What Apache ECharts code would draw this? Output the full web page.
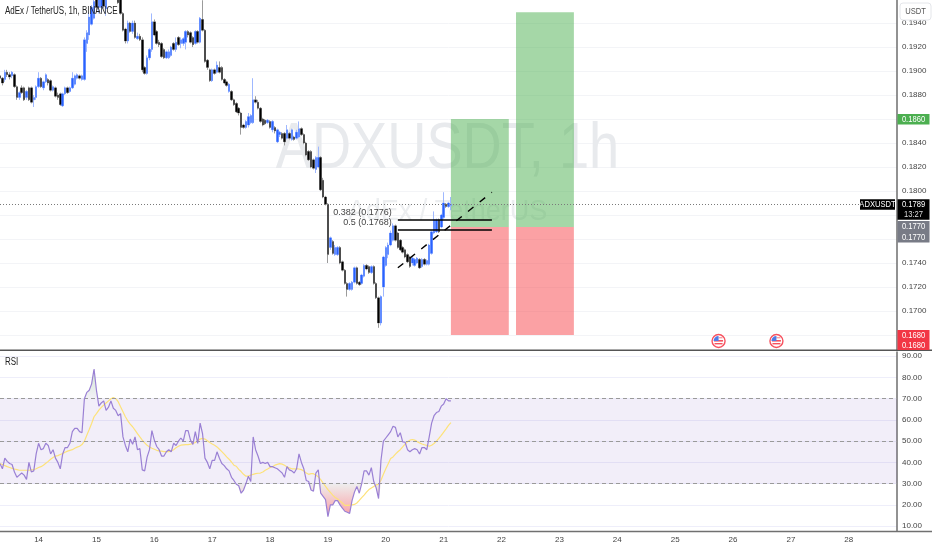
<!DOCTYPE html>
<html><head><meta charset="utf-8">
<style>html,body{margin:0;padding:0;background:#fff}#c{width:932px;height:550px}</style>
<script src="https://cdn.jsdelivr.net/npm/echarts@6/dist/echarts.min.js"></script>
</head><body><div id="c"></div>
<script>
const opens=[.1896,.1894,.1893,.1899,.1897,.1896,.1897,.1887,.1878,.1886,.1886,.1878,.1886,.1886,.1876,.1878,.1887,.1894,.1886,.1891,.1893,.1892,.1884,.1886,.1880,.1881,.1871,.1881,.1886,.1883,.1886,.1889,.1894,.1896,.1893,.1893,.1923,.1930,.1939,.1944,.1964,.1953,.1953,.1964,.1952,.1962,.1968,.1971,.1966,.1962,.1960,.1948,.1935,.1925,.1940,.1933,.1940,.1927,.1929,.1926,.1903,.1898,.1911,.1918,.1941,.1933,.1924,.1923,.1918,.1911,.1911,.1913,.1923,.1918,.1928,.1923,.1923,.1924,.1933,.1932,.1928,.1923,.1933,.1924,.1943,.1934,.1909,.1901,.1892,.1901,.1899,.1903,.1903,.1893,.1891,.1883,.1883,.1876,.1873,.1869,.1865,.1855,.1853,.1855,.1857,.1857,.1876,.1874,.1869,.1860,.1859,.1857,.1858,.1851,.1853,.1841,.1847,.1848,.1848,.1844,.1848,.1843,.1845,.1844,.1845,.1852,.1847,.1840,.1833,.1833,.1826,.1818,.1820,.1828,.1809,.1795,.1789,.1753,.1758,.1747,.1747,.1753,.1741,.1734,.1723,.1718,.1718,.1724,.1736,.1724,.1723,.1729,.1738,.1737,.1732,.1737,.1723,.1711,.1690,.1720,.1738,.1747,.1755,.1759,.1771,.1765,.1759,.1753,.1751,.1747,.1745,.1740,.1738,.1740,.1743,.1737,.1743,.1739,.1739,.1748,.1765,.1766,.1776,.1770,.1778,.1789,.1787,.1788];
const closes=[.1894,.1890,.1899,.1897,.1895,.1899,.1887,.1878,.1882,.1882,.1876,.1883,.1876,.1874,.1878,.1887,.1894,.1887,.1891,.1897,.1890,.1884,.1887,.1879,.1878,.1872,.1881,.1886,.1882,.1886,.1894,.1896,.1897,.1894,.1896,.1926,.1932,.1945,.1953,.1958,.1953,.1961,.1964,.1954,.1962,.1968,.1971,.1966,.1962,.1957,.1948,.1934,.1925,.1940,.1933,.1940,.1928,.1929,.1926,.1901,.1898,.1911,.1918,.1941,.1930,.1923,.1922,.1912,.1911,.1916,.1916,.1920,.1918,.1924,.1922,.1926,.1927,.1933,.1930,.1924,.1922,.1933,.1924,.1944,.1934,.1908,.1903,.1892,.1901,.1898,.1905,.1899,.1893,.1890,.1888,.1889,.1876,.1872,.1866,.1865,.1853,.1853,.1858,.1862,.1863,.1876,.1874,.1869,.1858,.1855,.1856,.1859,.1853,.1858,.1850,.1851,.1849,.1844,.1841,.1851,.1844,.1851,.1843,.1849,.1852,.1847,.1840,.1830,.1826,.1820,.1819,.1828,.1828,.1801,.1795,.1789,.1747,.1761,.1748,.1753,.1753,.1740,.1734,.1723,.1718,.1723,.1724,.1736,.1723,.1722,.1730,.1738,.1735,.1732,.1737,.1723,.1711,.1690,.1712,.1745,.1753,.1755,.1765,.1771,.1759,.1753,.1751,.1749,.1745,.1741,.1737,.1744,.1743,.1744,.1736,.1743,.1739,.1742,.1755,.1766,.1776,.1776,.1766,.1780,.1790,.1787,.1790,.1789];
const highs=[.1898,.1895,.1901,.1901,.1899,.1900,.1898,.1888,.1883,.1888,.1887,.1884,.1887,.1887,.1880,.1888,.1899,.1895,.1892,.1898,.1894,.1893,.1888,.1887,.1882,.1882,.1882,.1887,.1887,.1887,.1899,.1897,.1898,.1897,.1897,.1928,.1934,.1949,.1955,.1961,.1966,.1964,.1966,.1966,.1963,.1969,.1973,.1973,.1968,.1963,.1961,.1949,.1936,.1942,.1941,.1942,.1942,.1932,.1931,.1928,.1904,.1913,.1919,.1948,.1943,.1934,.1926,.1924,.1919,.1917,.1918,.1921,.1924,.1928,.1929,.1928,.1928,.1934,.1934,.1933,.1929,.1934,.1934,.1945,.1959,.1935,.1910,.1902,.1902,.1902,.1908,.1908,.1904,.1894,.1892,.1890,.1884,.1877,.1874,.1870,.1866,.1856,.1859,.1865,.1864,.1894,.1879,.1876,.1870,.1861,.1860,.1860,.1859,.1859,.1854,.1852,.1850,.1849,.1849,.1855,.1849,.1852,.1846,.1851,.1858,.1853,.1848,.1841,.1834,.1834,.1827,.1829,.1837,.1829,.1811,.1796,.1790,.1762,.1759,.1755,.1754,.1754,.1742,.1735,.1724,.1724,.1725,.1737,.1737,.1725,.1731,.1739,.1739,.1738,.1738,.1738,.1724,.1712,.1713,.1746,.1754,.1757,.1767,.1773,.1772,.1766,.1760,.1754,.1752,.1748,.1746,.1745,.1744,.1745,.1744,.1744,.1744,.1743,.1756,.1767,.1783,.1777,.1777,.1781,.1799,.1790,.1791,.1795];
const lows=[.1893,.1888,.1891,.1895,.1893,.1894,.1886,.1876,.1876,.1881,.1875,.1876,.1875,.1873,.1870,.1876,.1886,.1886,.1884,.1890,.1888,.1883,.1883,.1878,.1876,.1871,.1870,.1880,.1881,.1882,.1885,.1888,.1893,.1893,.1892,.1892,.1916,.1926,.1938,.1943,.1951,.1948,.1949,.1952,.1946,.1961,.1966,.1964,.1960,.1956,.1947,.1933,.1923,.1923,.1932,.1931,.1927,.1926,.1925,.1899,.1897,.1897,.1909,.1916,.1929,.1922,.1920,.1911,.1910,.1910,.1910,.1912,.1917,.1916,.1921,.1919,.1921,.1918,.1928,.1923,.1920,.1922,.1923,.1923,.1933,.1907,.1901,.1891,.1891,.1897,.1898,.1898,.1892,.1889,.1887,.1882,.1875,.1871,.1865,.1863,.1847,.1852,.1852,.1853,.1856,.1856,.1873,.1868,.1857,.1854,.1855,.1856,.1852,.1849,.1848,.1840,.1845,.1843,.1838,.1843,.1843,.1842,.1842,.1843,.1844,.1846,.1839,.1829,.1825,.1819,.1818,.1815,.1819,.1800,.1794,.1788,.1740,.1751,.1747,.1746,.1746,.1739,.1733,.1722,.1712,.1717,.1717,.1723,.1722,.1721,.1722,.1728,.1734,.1731,.1731,.1722,.1710,.1686,.1688,.1712,.1737,.1744,.1754,.1758,.1758,.1752,.1750,.1748,.1744,.1740,.1736,.1738,.1737,.1739,.1735,.1736,.1738,.1738,.1738,.1747,.1764,.1765,.1765,.1769,.1777,.1786,.1786,.1784];
const rsiValues=[39.4,37,42,40.5,39.5,39,35.5,33,34,35,34,32,40,35.5,36,44,49,46,46.5,49,48,44,46,42,40,37,44,47,47,49,54.5,56,56,54.5,54,70,73,74,77,84,74,66.5,68,69,64.5,66,69,65.5,64.5,62,63,52,48,45,51,48.5,52,46,46.5,36.5,36,42.5,46,55,50.5,47.5,46,43,43,45,46,45,49,48,50,51.5,50,55,55,50.5,48.5,54.5,49,58.5,53.5,42,40,37,41,41,45,42,39.5,38.5,37,36,33,31.5,29.7,29,25.5,27,30,33.5,31,52,46,43,39.5,40,39.5,40,38,38,37.5,37,36,35,33,38,36.5,36,35,37,44,40,37,31.5,31,27,26.5,35,36.5,25.5,24,22.5,14.5,20,20,22,22,20,18.5,17,16.5,16,22,26,28.7,25.5,30,36,36,34,37.5,31,28,23,41,50,51.5,53,54.5,57,56.5,52,54,49.7,49.5,46,45,46,46.5,46,44,47,47,46,52,58.5,62,63.5,64,66.5,67.5,70,69,69];
const rsiAverage=[39.4,39,38.5,38,37.6,37.2,36.9,36.6,36.3,36.3,36.3,36.3,36.3,36.5,36.6,37,37.6,38,38.7,39.6,40.5,41.5,42.3,43,43.2,43.7,44.2,44.8,45.3,45.7,46,46.7,47.2,47.6,48.4,50,52.8,55.5,58.3,61.5,63,64.6,65.9,67,68,69,70,70.5,70,68.6,66.2,63.9,61.5,59.6,58,56.8,55.2,53.6,52,50.5,49.2,48.1,47.3,46.7,46.2,45.7,45.4,45.3,45.1,45.1,45.1,45.4,46,46.9,47.6,48.1,48.3,48.4,48.4,48.6,48.9,49.4,50.2,51,51.3,51,50.2,49.4,48.7,48.1,47.3,46.2,45.1,43.9,42.6,41.5,40.2,38.7,38.2,36.7,35.7,34.4,33.5,33.6,34,34.4,34.7,34.9,35,35.5,36.3,36.9,37.6,38,38.7,39.1,39.4,39.2,38.7,37.9,37.4,37,37,37,36.9,36.6,36,35,34.4,34.7,34.7,34,33.2,31.9,30.3,28.7,27.2,25.9,24.6,23.5,22.8,21.8,20.9,19.8,19.8,19.9,20,20.2,20.9,22.1,23.4,24.6,26,27.2,28,28.7,29.4,29.7,31.6,34.4,37,39.4,41.8,42.6,43.9,45,46,47.3,48.6,49.7,50.5,50.8,50.5,49.8,49.2,48.7,48.3,48,47.6,48.1,48.9,50,51.3,52.7,54.3,55.8,57.4,58.7];
const dayLabels=["14","15","16","17","18","19","20","21","22","23","24","25","26","27","28"];
const priceTicks=[.168,.17,.172,.174,.176,.178,.18,.182,.184,.186,.188,.19,.192,.194];
const rsiTicks=[10,20,30,40,50,60,70,80,90];
const rsiLevels=[70,50,30];
const fibLevels=[{name:"0.382 (0.1776)",price:.1776},{name:"0.5 (0.1768)",price:.1768}];
const entryPrice=.177, stopPrice=.168, targetOne=.186, targetTwo=.1949, lastPrice=.1789;
const boxOneBars=[187,211], boxTwoBars=[214,238];
const fibBars=[165,204], trendBars=[165,204], trendPrices=[.1736,.1799];
const eventBars=[298,322];

const SLOTS=373, DAY_ZERO=16;
const categories=Array.from({length:SLOTS},(_,i)=>{const k=(i-DAY_ZERO)/24;return Number.isInteger(k)&&k>=0&&k<dayLabels.length?dayLabels[k]:"";});
const UP="#2962ff",DOWN="#000000",UPW="#9fb8ff",DOWNW="#9b9b9b";
const SANS='"Liberation Sans",Arial,sans-serif';
const wickData=opens.map((o,i)=>[o,closes[i],lows[i],highs[i]]);
const bodyData=opens.map((o,i)=>[o,closes[i],Math.min(o,closes[i]),Math.max(o,closes[i])]);

const chart=echarts.init(document.getElementById("c"),null,{renderer:"canvas"});
const W=897,PT=0,PH=350,RT=352,RH=179;
const axisLine={show:true,lineStyle:{color:"#6e6e6e",width:1.5}};
const grad=(a,b)=>new echarts.graphic.LinearGradient(0,0,0,1,[{offset:0,color:a},{offset:1,color:b}]);
chart.setOption({
 animation:false,backgroundColor:"#ffffff",
 grid:[{left:0,top:PT,width:W,height:PH,containLabel:false},{left:0,top:RT,width:W,height:RH,containLabel:false}],
 xAxis:[
  {gridIndex:0,type:"category",data:categories,boundaryGap:false,axisLine:{show:false},axisTick:{show:false},axisLabel:{show:false},splitLine:{show:false}},
  {gridIndex:1,type:"category",data:categories,boundaryGap:false,axisLine:{show:false},axisTick:{show:false},splitLine:{show:false},
   axisLabel:{show:true,interval:(i,v)=>v!=="",margin:5,color:"#444",fontSize:8,fontFamily:SANS,hideOverlap:false}}
 ],
 yAxis:[
  {gridIndex:0,type:"value",position:"right",min:.16675,max:.19592,scale:true,axisLine,
   axisTick:{show:false,customValues:priceTicks},
   axisLabel:{color:"#444",fontSize:8,fontFamily:SANS,margin:5,customValues:priceTicks,formatter:v=>v.toFixed(4)},
   splitLine:{show:true,lineStyle:{color:"#f3f4f7",width:1}}},
  {gridIndex:1,type:"value",position:"right",min:7.7,max:92,axisLine,
   axisTick:{show:false,customValues:rsiTicks},
   axisLabel:{color:"#444",fontSize:8,fontFamily:SANS,margin:5,customValues:rsiTicks,formatter:v=>v.toFixed(2)},
   splitLine:{show:true,lineStyle:{color:"#eeeefa",width:1}}}
 ],
 series:[
  {name:"Wicks",type:"candlestick",xAxisIndex:0,yAxisIndex:0,data:wickData,barWidth:2,z:3,silent:true,
   itemStyle:{color:UPW,color0:DOWNW,borderColor:UPW,borderColor0:DOWNW,borderWidth:1},
   markArea:{silent:true,z:2,label:{show:false},data:[
    [{xAxis:boxOneBars[0],yAxis:targetOne,itemStyle:{color:"rgba(76,175,80,.5)"}},{xAxis:boxOneBars[1],yAxis:entryPrice}],
    [{xAxis:boxOneBars[0],yAxis:entryPrice,itemStyle:{color:"rgba(247,67,73,.5)"}},{xAxis:boxOneBars[1],yAxis:stopPrice}],
    [{xAxis:boxTwoBars[0],yAxis:targetTwo,itemStyle:{color:"rgba(76,175,80,.5)"}},{xAxis:boxTwoBars[1],yAxis:entryPrice}],
    [{xAxis:boxTwoBars[0],yAxis:entryPrice,itemStyle:{color:"rgba(247,67,73,.5)"}},{xAxis:boxTwoBars[1],yAxis:stopPrice}]
   ]}},
  {name:"ADXUSDT",type:"candlestick",xAxisIndex:0,yAxisIndex:0,data:bodyData,barWidth:2,z:4,
   itemStyle:{color:UP,color0:DOWN,borderColor:UP,borderColor0:DOWN,borderWidth:0},
   markLine:{silent:true,symbol:"none",animation:false,precision:4,data:[
    {yAxis:lastPrice,lineStyle:{color:"#7a7a7a",type:[1,2],width:1},label:{show:false}},
    ...fibLevels.map(f=>[
     {xAxis:fibBars[0],yAxis:f.price,lineStyle:{color:"#000",type:"solid",width:1.5},
      label:{show:true,position:"start",formatter:f.name,color:"#444",fontSize:9,fontFamily:SANS,offset:[-1,-7]}},
     {xAxis:fibBars[1],yAxis:f.price}]),
    [{xAxis:trendBars[0],yAxis:trendPrices[0],lineStyle:{color:"#000",type:[7,8],width:1.4},label:{show:false}},
     {xAxis:trendBars[1],yAxis:trendPrices[1]}]
   ]}},
  {name:"RSI",type:"line",xAxisIndex:1,yAxisIndex:1,data:rsiValues,showSymbol:false,symbol:"none",z:5,
   lineStyle:{color:"#9a80d4",width:1.2},
   markArea:{silent:true,z:1,itemStyle:{color:"rgba(126,87,194,.1)"},data:[[{yAxis:70},{yAxis:30}]]},
   markLine:{silent:true,symbol:"none",label:{show:false},lineStyle:{color:"#9a9a9a",type:[4,3],width:1},data:rsiLevels.map(v=>({yAxis:v}))}},
  {name:"RSI average",type:"line",xAxisIndex:1,yAxisIndex:1,data:rsiAverage,symbol:"none",z:4,lineStyle:{color:"#fde27a",width:1.2}},
  {name:"Oversold",type:"line",xAxisIndex:1,yAxisIndex:1,data:rsiValues.map(v=>Math.min(v,30)),symbol:"none",z:3,lineStyle:{width:0},
   areaStyle:{origin:30,opacity:1,color:grad("#eeeeee","#fb9ea3")}},
  {name:"Overbought",type:"line",xAxisIndex:1,yAxisIndex:1,data:rsiValues.map(v=>Math.max(v,70)),symbol:"none",z:3,lineStyle:{width:0},
   areaStyle:{origin:70,opacity:1,color:grad("#cfe6d0","#f3f1f7")}}
 ]
});
const py=p=>chart.convertToPixel({yAxisIndex:0},p);
const ix=i=>chart.convertToPixel({xAxisIndex:0},i);
const txt=(t,x,y,fill,font,align,sx,z)=>({type:"text",z:z||120,silent:true,x,y,scaleX:sx||0.8,style:{text:t,x:0,y:0,fill,font:font||('9.5px '+SANS),textAlign:align||"center",textVerticalAlign:"middle"}});
const rect=(x,y,w,h,fill,extra)=>Object.assign({type:"rect",z:110,silent:true,shape:{x,y,width:w,height:h},style:{fill}},extra||{});
const TAGX=897.5,TAGW=32,TAGC=913.5;
const tg=[];
tg.push(txt("ADXUSDT, 1h",447.5,150,"#e8eaed",'64px '+SANS,"center",0.847,1));
tg.push(txt("AdEx / TetherUS",447.5,212,"#eceef0",'30px '+SANS,"center",0.9,1));
tg.push(rect(0,349.5,932,1.6,"#555"));
tg.push(rect(0,530.8,932,1.4,"#707070"));
tg.push(txt("AdEx / TetherUS, 1h, BINANCE",5,11,"#222",'10px '+SANS,"left"));
tg.push(txt("RSI",5,362,"#222",'10px '+SANS,"left"));
tg.push({type:"rect",z:115,silent:true,shape:{x:900,y:3,width:31,height:17,r:3},style:{fill:"#fff",stroke:"#e4e6ea",lineWidth:1}});
tg.push(txt("USDT",915.5,11.5,"#555"));
tg.push(rect(TAGX,py(targetOne)-5,TAGW,10.5,"#4caf50"));
tg.push(txt(targetOne.toFixed(4),TAGC,py(targetOne),"#fff"));
const yLast=py(lastPrice);
tg.push(rect(860,yLast-5,35,10.5,"#000"));
tg.push(txt("ADXUSDT",877.5,yLast,"#fff"));
tg.push(rect(TAGX,yLast-5,TAGW,20.5,"#000"));
tg.push(txt(lastPrice.toFixed(4),TAGC,yLast,"#fff"));
tg.push(txt("13:27",TAGC,yLast+10,"#ddd"));
const yE=py(entryPrice);
tg.push(rect(TAGX,yE-6,TAGW,21.5,"#787b86"));
tg.push(txt(entryPrice.toFixed(4),TAGC,yE-.5,"#fff"));
tg.push(txt(entryPrice.toFixed(4),TAGC,yE+10,"#fff"));
const yS=py(stopPrice);
tg.push(rect(TAGX,yS-5,TAGW,20,"#f23645"));
tg.push(txt(stopPrice.toFixed(4),TAGC,yS,"#fff"));
tg.push(txt(stopPrice.toFixed(4),TAGC,yS+10.5,"#fff"));
eventBars.forEach(b=>{
 const cx=ix(b),cy=341;
 tg.push({type:"circle",z:130,silent:true,shape:{cx,cy,r:6.5},style:{fill:"#fff",stroke:"#f7525f",lineWidth:1.4}});
 tg.push({type:"rect",z:131,silent:true,shape:{x:cx-4.5,y:cy-1,width:9,height:1.6},style:{fill:"#f7525f"}});
 tg.push({type:"rect",z:131,silent:true,shape:{x:cx-4,y:cy+2,width:8,height:1.4},style:{fill:"#f7525f"}});
 tg.push({type:"sector",z:132,silent:true,shape:{cx:cx,cy:cy,r:5,r0:0,startAngle:Math.PI,endAngle:Math.PI*1.5},style:{fill:"#4f7be6"}});
 tg.push({type:"rect",z:131,silent:true,shape:{x:cx,y:cy-4,width:4,height:1.4},style:{fill:"#f7a0a6"}});
});
chart.setOption({graphic:tg});
</script></body></html>
